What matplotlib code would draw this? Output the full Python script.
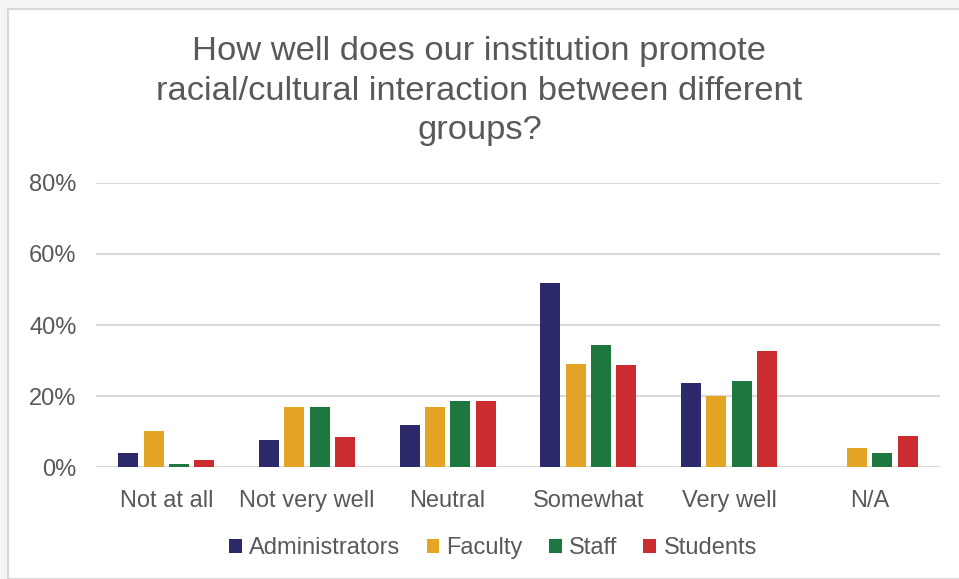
import numpy as np
import matplotlib
matplotlib.use("Agg")
import matplotlib.pyplot as plt
from matplotlib.patches import Rectangle
from matplotlib.ticker import PercentFormatter

plt.rcParams['font.family'] = ['Liberation Sans', 'DejaVu Sans']

categories = ["Not at all", "Not very well", "Neutral", "Somewhat", "Very well", "N/A"]
administrators = [3.9, 7.7, 11.8, 51.8, 23.8, 0.0]
faculty = [10.2, 17.0, 17.0, 29.0, 20.0, 5.4]
staff = [0.9, 17.0, 18.6, 34.3, 24.2, 3.9]
students = [2.1, 8.4, 18.6, 28.7, 32.7, 8.8]

series = ["Administrators", "Faculty", "Staff", "Students"]
colors = ["#2d2a6b", "#e4a526", "#1e773e", "#cb2c30"]
text_color = "#595959"

fig = plt.figure(figsize=(9.59, 5.79), dpi=100, facecolor="#f4f4f4")
# white chart frame
fig.patches.append(Rectangle((8 / 959, 0), 1, 1 - 9 / 579, transform=fig.transFigure,
                             facecolor="white", edgecolor="#d9d9d9", linewidth=1.5, zorder=-10))

ax = fig.add_axes([96 / 959, 1 - 467.3 / 579, 844 / 959, (467.3 - 182.7) / 579])
ax.set_facecolor("none")
ax.set_zorder(1)

x = np.arange(len(categories))
step, width = 0.18, 0.142
for i, (vals, name, c) in enumerate(zip([administrators, faculty, staff, students], series, colors)):
    ax.bar(x + (i - 1.5) * step, vals, width=width, color=c, label=name, zorder=3)

ax.set_xlim(-0.5, len(categories) - 0.5)
ax.set_ylim(0, 80)
ax.set_yticks([0, 20, 40, 60, 80])
ax.yaxis.set_major_formatter(PercentFormatter(decimals=0))
ax.grid(axis="y", color="#d9d9d9", linewidth=1.5, zorder=0)
ax.set_xticks(x)
ax.set_xticklabels(categories)
for s in ax.spines.values():
    s.set_visible(False)
ax.tick_params(axis="both", length=0, labelsize=17, colors=text_color)
ax.tick_params(axis="y", pad=14)
ax.tick_params(axis="x", pad=16)

fig.text(0.5, 1 - 91 / 579,
         "How well does our institution promote\nracial/cultural interaction between different\ngroups?",
         ha="center", va="center", fontsize=24.8, color=text_color, linespacing=1.35)

leg = fig.legend(loc="center", bbox_to_anchor=(493 / 959, 1 - 548 / 579), ncol=4, frameon=False,
                 fontsize=17, handlelength=0.55, handleheight=0.55, handletextpad=0.3,
                 columnspacing=1.1)
for t in leg.get_texts():
    t.set_color(text_color)

fig.savefig("out.png", dpi=100, facecolor=fig.get_facecolor())
